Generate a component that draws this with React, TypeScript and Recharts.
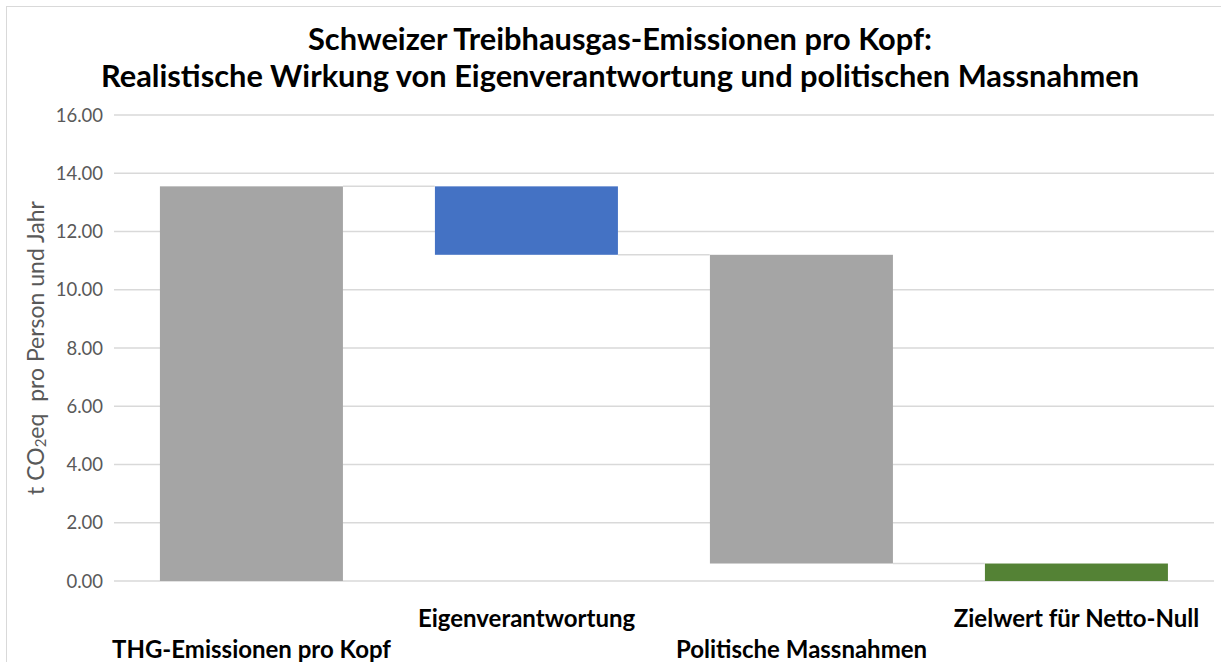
import { BarChart, Bar, XAxis, YAxis, CartesianGrid, Cell, Label } from "recharts";

// ─── Data
const categories = [
  "THG-Emissionen pro Kopf",
  "Eigenverantwortung",
  "Politische Massnahmen",
  "Zielwert für Netto-Null",
];
const baseValues = [0, 11.2, 0.6, 0];
const deltaValues = [13.55, 2.35, 10.6, 0.6];
const connectAt = ["top", "bottom", "bottom", "none"];
const barColors = ["#a5a5a5", "#4472c4", "#a5a5a5", "#548235"];
const yTicks = [0, 2, 4, 6, 8, 10, 12, 14, 16];

const data = categories.map((name, i) => ({
  name,
  base: baseValues[i],
  delta: deltaValues[i],
  connect: connectAt[i],
}));

const CAT_GAP = 0.167;
const FONT = "Lato, 'Noto Sans', sans-serif";

// bar + connector line to the next bar
const WaterfallBar = (props: any) => {
  const { x, y, width, height, fill, payload } = props;
  const gap = (width * 2 * CAT_GAP) / (1 - 2 * CAT_GAP);
  const ly = payload.connect === "top" ? y : y + height;
  return (
    <g>
      <rect x={x} y={y} width={width} height={height} fill={fill} />
      {payload.connect !== "none" && (
        <line
          x1={x + width}
          x2={x + width + gap}
          y1={ly}
          y2={ly}
          stroke="#d9d9d9"
          strokeWidth={1.5}
        />
      )}
    </g>
  );
};

const CategoryTick = (props: any) => {
  const { x, y, payload, index } = props;
  const dy = index % 2 === 0 ? 69 : 38;
  return (
    <text
      x={x}
      y={y + dy}
      textAnchor="middle"
      fontFamily={FONT}
      fontWeight={700}
      fontSize={24}
      fill="#000"
    >
      {payload.value}
    </text>
  );
};

const AxisTitle = (props: any) => {
  const { viewBox } = props;
  const cx = 35;
  const cy = viewBox.y + viewBox.height / 2 + 0;
  return (
    <text
      x={cx}
      y={cy}
      transform={`rotate(-90 ${cx} ${cy})`}
      textAnchor="middle"
      dominantBaseline="central"
      fontFamily={FONT}
      fontSize={23}
      fill="#595959"
      style={{ whiteSpace: "pre" }}
    >
      t CO
      <tspan fontSize={15} dy={5}>
        2
      </tspan>
      <tspan dy={-5}>{"eq  pro Person und Jahr"}</tspan>
    </text>
  );
};

export default function App() {
  return (
    <div
      style={{
        position: "absolute",
        left: 0,
        top: 0,
        width: 1221,
        height: 662,
        overflow: "hidden",
        background: "#fff",
      }}
    >
      <div
        style={{
          position: "absolute",
          left: 6,
          top: 6,
          width: 1240,
          height: 700,
          borderTop: "1.5px solid #d9d9d9",
          borderLeft: "1.5px solid #d9d9d9",
        }}
      />
      <div
        style={{
          position: "absolute",
          left: 0,
          top: 20,
          width: 1240,
          textAlign: "center",
          fontFamily: FONT,
          fontWeight: 700,
          fontSize: 30.8,
          lineHeight: "37px",
          color: "#000",
        }}
      >
        Schweizer Treibhausgas-Emissionen pro Kopf:
        <br />
        Realistische Wirkung von Eigenverantwortung und politischen Massnahmen
      </div>
      <div style={{ position: "absolute", left: 0, top: 0 }}>
        <BarChart
          width={1221}
          height={662}
          data={data}
          margin={{ top: 115, right: 7, bottom: 0, left: 0 }}
          barCategoryGap={`${CAT_GAP * 100}%`}
        >
          <CartesianGrid vertical={false} stroke="#d9d9d9" strokeWidth={1.5} />
          <XAxis
            dataKey="name"
            height={81}
            axisLine={false}
            tickLine={false}
            interval={0}
            tick={<CategoryTick />}
          />
          <YAxis
            width={114}
            domain={[0, 16]}
            ticks={yTicks}
            axisLine={false}
            tickLine={false}
            tickMargin={5}
            tickFormatter={(v: number) => v.toFixed(2)}
            tick={{ fontSize: 18.5, fill: "#595959", fontFamily: FONT }}
          >
            <Label content={<AxisTitle />} />
          </YAxis>
          <Bar dataKey="base" stackId="w" fill="transparent" isAnimationActive={false} />
          <Bar dataKey="delta" stackId="w" isAnimationActive={false} shape={<WaterfallBar />}>
            {data.map((d, i) => (
              <Cell key={d.name} fill={barColors[i]} />
            ))}
          </Bar>
        </BarChart>
      </div>
    </div>
  );
}
